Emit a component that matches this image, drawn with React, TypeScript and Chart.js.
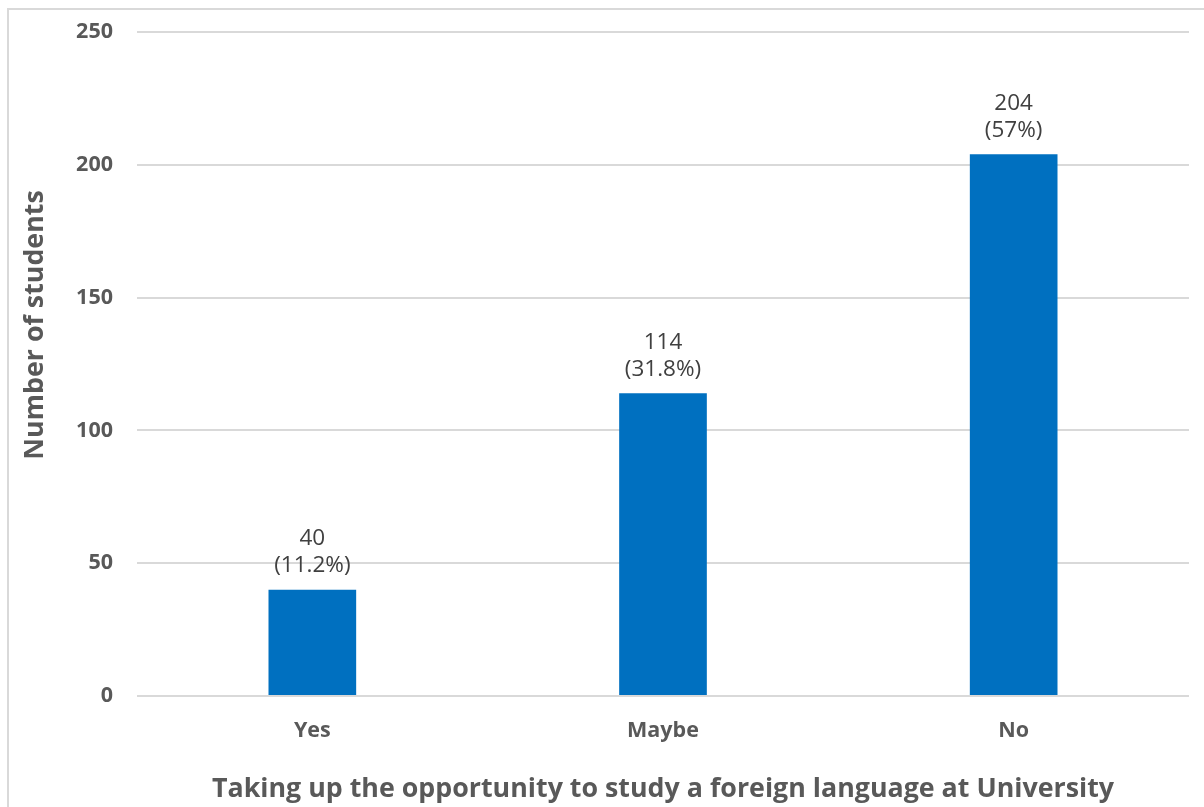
import React, { useEffect, useRef } from "react";
import { Chart, registerables } from "chart.js";

Chart.register(...registerables);

const categories = ["Yes", "Maybe", "No"];
const studentCounts = [40, 114, 204];
const percentLabels = ["(11.2%)", "(31.8%)", "(57%)"];
const yMin = 0;
const yMax = 250;
const yStep = 50;
const xAxisTitle = "Taking up the opportunity to study a foreign language at University";
const yAxisTitle = "Number of students";

const FONT = "'Open Sans'";
const AXIS_GREY = "#595959";
const LABEL_GREY = "#404040";
const GRID_GREY = "#d9d9d9";
const BAR_BLUE = "#0070c0";

const barLabelPlugin = {
  id: "barLabels",
  afterDatasetsDraw(chart: any) {
    const ctx = chart.ctx;
    const meta = chart.getDatasetMeta(0);
    ctx.save();
    ctx.font = `22.5px ${FONT}`;
    ctx.fillStyle = LABEL_GREY;
    ctx.textAlign = "center";
    ctx.textBaseline = "middle";
    meta.data.forEach((bar: any, i: number) => {
      ctx.fillText(String(studentCounts[i]), bar.x, bar.y - 51);
      ctx.fillText(percentLabels[i], bar.x, bar.y - 24);
    });
    ctx.restore();
  },
};

const yTitlePlugin = {
  id: "yTitle",
  afterDraw(chart: any) {
    const ctx = chart.ctx;
    ctx.save();
    ctx.translate(35, 325);
    ctx.rotate(-Math.PI / 2);
    ctx.font = `bold 26.8px ${FONT}`;
    ctx.fillStyle = AXIS_GREY;
    ctx.textAlign = "center";
    ctx.textBaseline = "middle";
    ctx.fillText(yAxisTitle, 0, 0);
    ctx.restore();
  },
};

export default function App() {
  const canvasRef = useRef<HTMLCanvasElement | null>(null);

  useEffect(() => {
    if (!canvasRef.current) return;
    const chart = new Chart(canvasRef.current, {
      type: "bar",
      data: {
        labels: categories,
        datasets: [
          {
            data: studentCounts,
            backgroundColor: BAR_BLUE,
            borderWidth: 0,
            categoryPercentage: 1,
            barPercentage: 0.25,
          },
        ],
      },
      options: {
        responsive: false,
        animation: false,
        layout: { padding: { top: 32, right: 15, bottom: 0, left: 0 } },
        plugins: {
          legend: { display: false },
          tooltip: { enabled: false },
        },
        scales: {
          x: {
            grid: { display: false },
            border: { display: false },
            ticks: {
              color: AXIS_GREY,
              font: { family: FONT, size: 21.5, weight: "bold" },
              padding: 14,
            },
            title: {
              display: true,
              text: xAxisTitle,
              color: AXIS_GREY,
              font: { family: FONT, size: 26.8, weight: "bold" },
              padding: { top: 0, bottom: 2 },
            },
            afterFit(scale: any) {
              scale.height = 111;
            },
          },
          y: {
            min: yMin,
            max: yMax,
            grid: { color: GRID_GREY, lineWidth: 2, drawTicks: false },
            border: { display: false },
            ticks: {
              stepSize: yStep,
              color: AXIS_GREY,
              font: { family: FONT, size: 21.5, weight: "bold" },
              padding: 24,
            },
            afterFit(scale: any) {
              scale.width = 137;
              scale.paddingTop = 0;
              scale.paddingBottom = 0;
            },
          },
        },
      },
      plugins: [barLabelPlugin, yTitlePlugin],
    });
    return () => chart.destroy();
  }, []);

  return (
    <div
      style={{
        position: "fixed",
        left: 0,
        top: 0,
        width: 1204,
        height: 807,
        background: "#ffffff",
        overflow: "hidden",
      }}
    >
      <div
        style={{
          position: "absolute",
          left: 7,
          top: 8,
          width: 1400,
          height: 1000,
          border: `2px solid ${GRID_GREY}`,
          boxSizing: "border-box",
        }}
      />
      <canvas
        ref={canvasRef}
        width={1204}
        height={807}
        style={{ position: "absolute", left: 0, top: 0, width: 1204, height: 807 }}
      />
    </div>
  );
}
